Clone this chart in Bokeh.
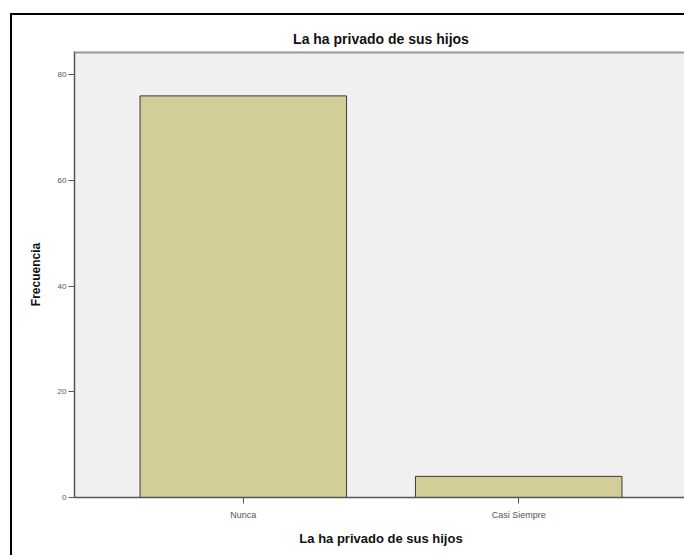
from bokeh.plotting import figure
from bokeh.models import FactorRange, Range1d, FixedTicker, ColumnDataSource, Span
from bokeh.embed import file_html
from bokeh.resources import INLINE

categories = ["Nunca", "Casi Siempre"]
counts = [76, 4]
y_ticks = [0, 20, 40, 60, 80]
y_max = 84.4

src = ColumnDataSource(dict(cat=categories, n=counts))

p = figure(width=676, height=542, output_backend="svg", toolbar_location=None,
           x_range=FactorRange(factors=categories, range_padding=0.113, range_padding_units="absolute"),
           y_range=Range1d(0, y_max),
           min_border_left=62, min_border_right=1, min_border_top=36, min_border_bottom=60,
           title="La ha privado de sus hijos")
p.styles = {"border-top": "2px solid black", "border-left": "2px solid black",
            "margin-left": "10px", "margin-top": "13px"}

p.vbar(x="cat", top="n", width=0.75, source=src, fill_color="#d3ce97",
       line_color="#3a3a30", line_width=1)

p.background_fill_color = "#f0f0f0"
p.border_fill_color = "white"
p.outline_line_color = None
p.add_layout(Span(location=y_max, dimension="width", line_color="#9a9a9a", line_width=4))
p.xgrid.grid_line_color = None
p.ygrid.grid_line_color = None

p.title.align = "center"
p.title.offset = -26
p.title.text_font = "Liberation Sans"
p.title.text_font_size = "14px"
p.title.text_font_style = "bold"
p.title.text_color = "#111111"

p.yaxis.ticker = FixedTicker(ticks=y_ticks)
p.yaxis.axis_label = "Frecuencia"
p.xaxis.axis_label = "La ha privado de sus hijos"
for ax in (p.xaxis[0], p.yaxis[0]):
    ax.axis_label_text_font = "Liberation Sans"
    ax.axis_label_text_font_style = "bold"
    ax.axis_label_text_color = "#111111"
    ax.major_label_text_font = "Liberation Sans"
    ax.major_label_text_color = "#555555"
    ax.axis_line_color = "#555555"
    ax.axis_line_width = 1.5
    ax.major_tick_line_color = "#555555"
    ax.major_tick_in = 0
    ax.major_tick_out = 6
    ax.minor_tick_line_color = None
p.xaxis.axis_label_text_font_size = "13px"
p.yaxis.axis_label_text_font_size = "12px"
p.xaxis.major_label_text_font_size = "9px"
p.yaxis.major_label_text_font_size = "8px"
p.xaxis.major_label_standoff = 6
p.yaxis.major_label_standoff = 2
p.xaxis.axis_label_standoff = 8
p.yaxis.axis_label_standoff = 12

open("out.html", "w").write(file_html(p, INLINE))
